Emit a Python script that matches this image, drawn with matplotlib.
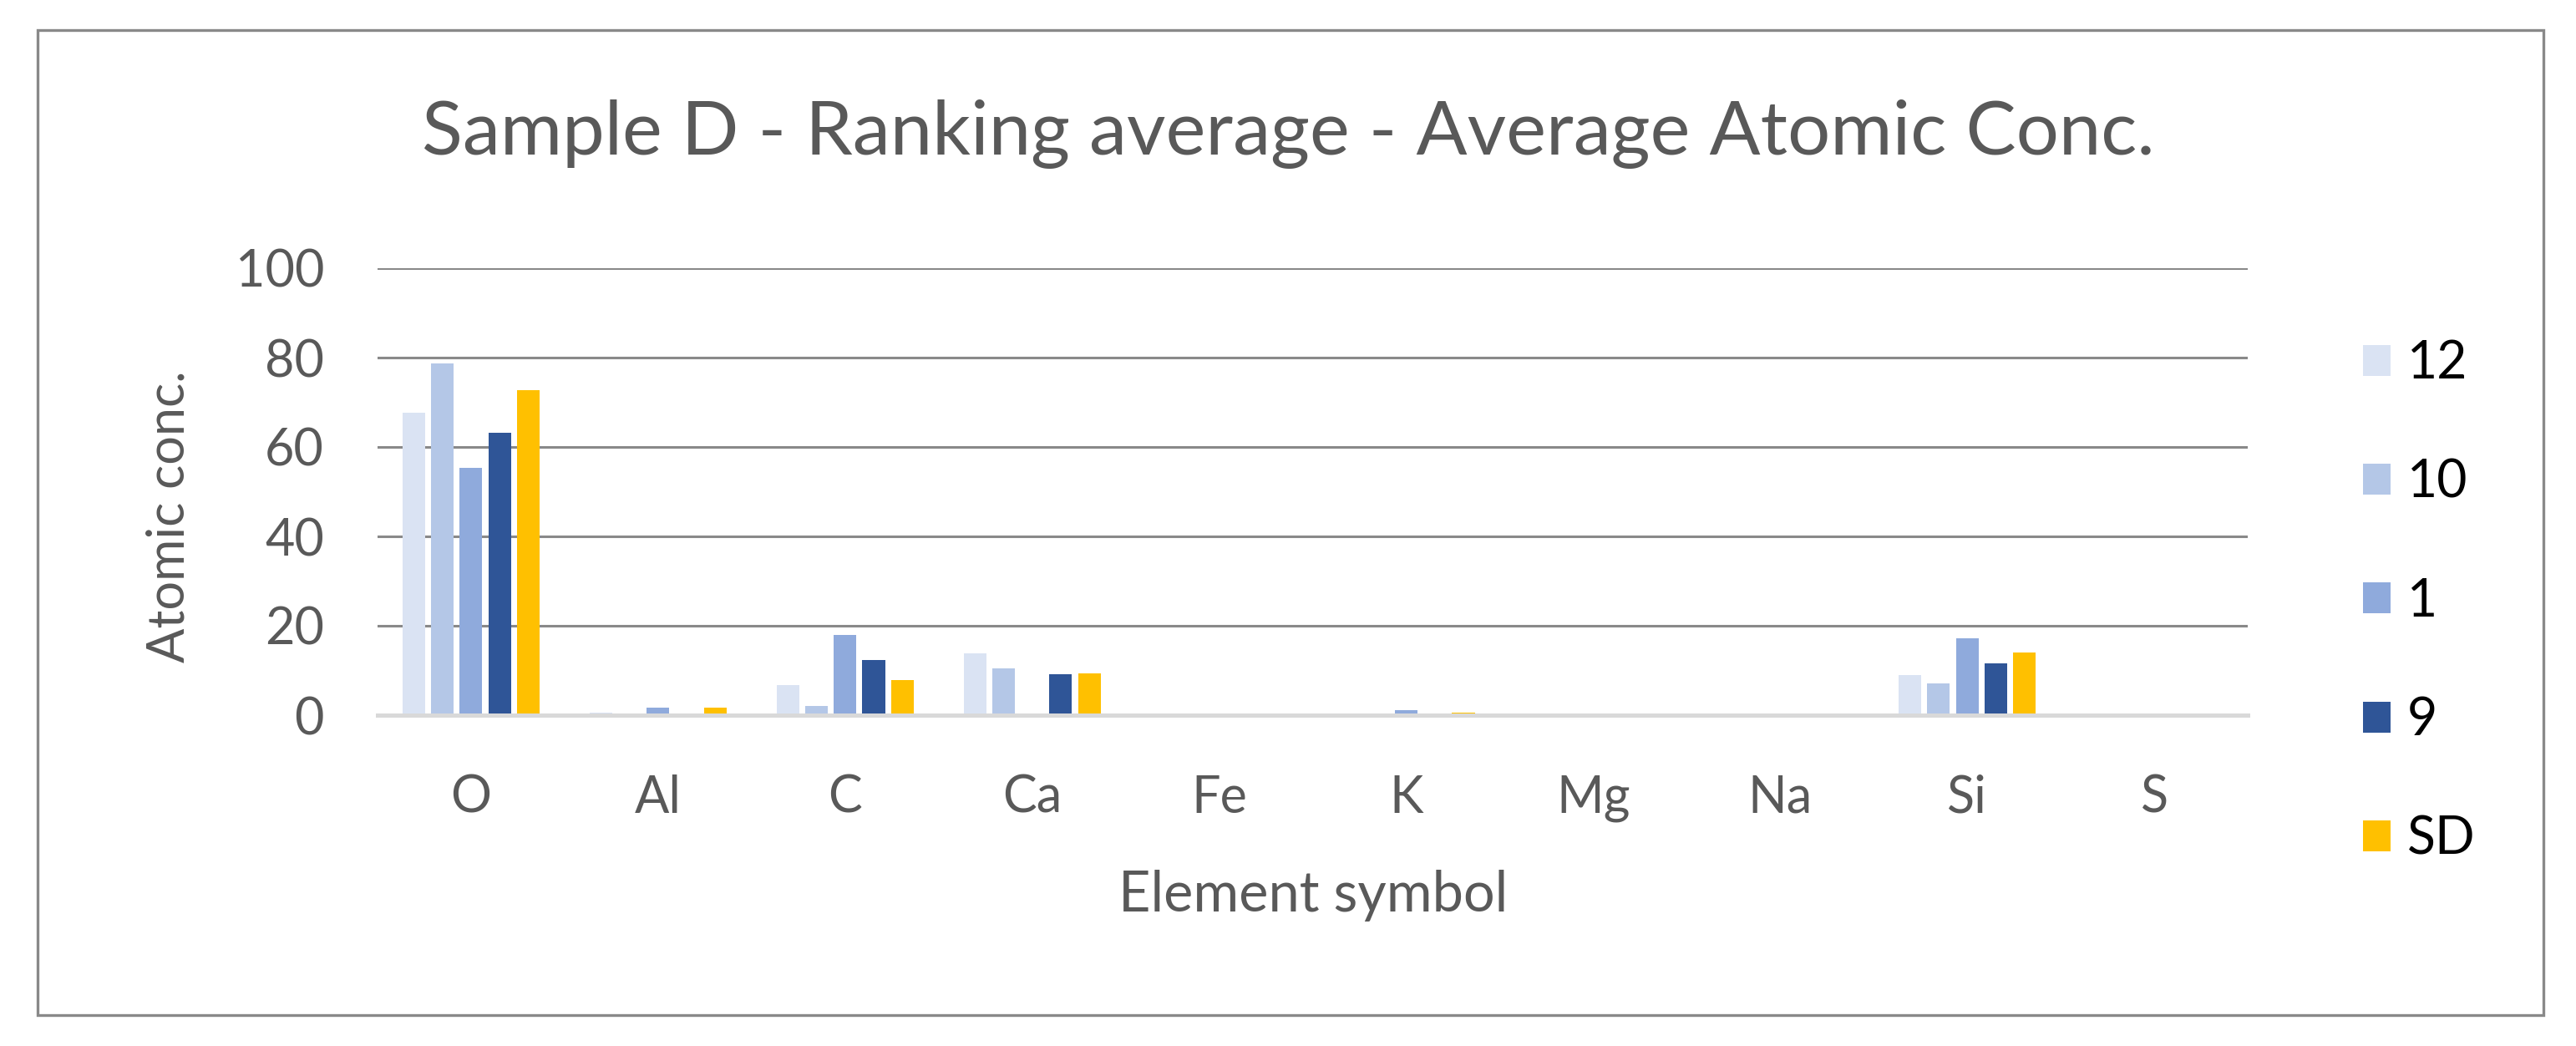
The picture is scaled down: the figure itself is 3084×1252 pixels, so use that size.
import matplotlib
matplotlib.use("Agg")
import matplotlib.pyplot as plt
from matplotlib.patches import Rectangle
import numpy

plt.rcParams["font.family"] = ["Lato", "DejaVu Sans"]

elements = ["O", "Al", "C", "Ca", "Fe", "K", "Mg", "Na", "Si", "S"]
series_names = ["12", "10", "1", "9", "SD"]
conc_12 = [67.6, 0.6, 6.7, 13.8, 0.0, 0.0, 0.0, 0.0, 9.0, 0.0]
conc_10 = [78.7, 0.0, 2.1, 10.5, 0.0, 0.0, 0.0, 0.0, 7.1, 0.0]
conc_1 = [55.4, 1.6, 17.9, 0.0, 0.0, 1.1, 0.0, 0.0, 17.2, 0.0]
conc_9 = [63.1, 0.0, 12.4, 9.2, 0.0, 0.0, 0.0, 0.0, 11.5, 0.0]
conc_sd = [72.7, 1.6, 7.9, 9.4, 0.0, 0.5, 0.0, 0.0, 14.1, 0.0]
y_ticks = [0, 20, 40, 60, 80, 100]

colors = ["#DAE3F3", "#B4C7E7", "#8FAADC", "#2F5597", "#FFC000"]
text_grey = "#595959"

W, H = 3084, 1252
fig = plt.figure(figsize=(W / 100, H / 100), dpi=100)
fig.patch.set_facecolor("white")

# outer chart frame
fig.patches.append(Rectangle((45 / W, 1 - 1215 / H), 3000 / W, 1179 / H,
                             transform=fig.transFigure, fill=False,
                             edgecolor="#898989", linewidth=2.4))

ax = fig.add_axes([452 / W, 1 - 856 / H, 2239 / W, 535 / H])

x = numpy.arange(len(elements))
step = 0.153
width = 0.121
all_series = [conc_12, conc_10, conc_1, conc_9, conc_sd]
for i, (vals, name, col) in enumerate(zip(all_series, series_names, colors)):
    ax.bar(x + (i - 2) * step, vals, width=width, color=col, label=name,
           zorder=3)

ax.set_xlim(-0.5, len(elements) - 0.5)
ax.set_ylim(0, 100)
ax.set_yticks(y_ticks)
ax.set_xticks(x)
ax.set_xticklabels(elements)
ax.yaxis.grid(True, color="#898989", linewidth=2.2, zorder=0)
ax.set_axisbelow(True)
for side in ["top", "right", "left"]:
    ax.spines[side].set_visible(False)
ax.spines["bottom"].set_color("#D9D9D9")
ax.spines["bottom"].set_linewidth(3.6)
ax.spines["bottom"].set_zorder(4)
ax.tick_params(axis="both", length=0, labelsize=44, colors=text_grey)
ax.tick_params(axis="y", pad=46)
ax.tick_params(axis="x", pad=51)

fig.text(0.5, 1 - 161 / H, "Sample D - Ranking average - Average Atomic Conc.",
         ha="center", va="center", fontsize=65, color=text_grey)
fig.text(1572 / W, 1 - 1072 / H, "Element symbol", ha="center", va="center",
         fontsize=48, color=text_grey)
fig.text(203 / W, 1 - 618 / H, "Atomic conc.", ha="center", va="center",
         rotation=90, fontsize=44, color=text_grey)

handles, labels = ax.get_legend_handles_labels()
fig.legend(handles, labels, loc="center left",
           bbox_to_anchor=(2829 / W, 1 - 720 / H), frameon=False,
           fontsize=45, handlelength=0.53, handleheight=0.53,
           handletextpad=0.32, labelspacing=1.35, borderpad=0,
           borderaxespad=0, labelcolor="black")

fig.savefig("out.png", dpi=100, facecolor="white")
